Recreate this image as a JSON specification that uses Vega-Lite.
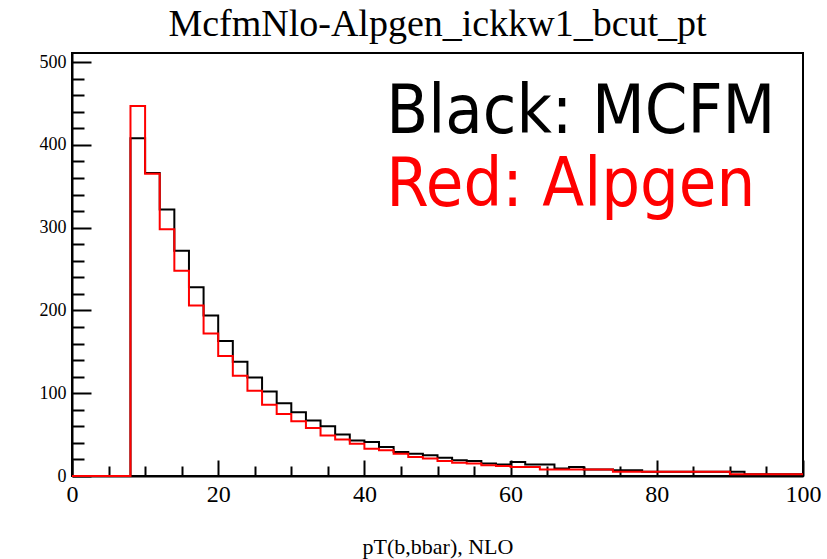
{
  "$schema": "https://vega.github.io/schema/vega-lite/v6.json",
  "width": 731,
  "height": 423,
  "autosize": {"type": "none"},
  "padding": {"left": 72, "top": 53, "right": 24, "bottom": 83},
  "background": "white",
  "title": {"text": "McfmNlo-Alpgen_ickkw1_bcut_pt", "font": "Liberation Serif", "fontSize": 38, "fontWeight": "normal", "color": "#000000", "anchor": "middle", "baseline": "alphabetic", "offset": -21},
  "config": {
    "view": {"stroke": "#000000", "strokeWidth": 2},
    "axis": {"grid": false, "domainColor": "#000000", "tickColor": "#000000", "labelColor": "#000000", "titleColor": "#000000", "domainWidth": 2, "tickWidth": 2}
  },
  "resolve": {"axis": {"x": "independent", "y": "independent"}},
  "datasets": {
    "hist": [
      {"pt": 0, "n": 0, "gen": "MCFM"}, {"pt": 2, "n": 0, "gen": "MCFM"}, {"pt": 4, "n": 0, "gen": "MCFM"}, {"pt": 6, "n": 0, "gen": "MCFM"},
      {"pt": 8, "n": 408, "gen": "MCFM"}, {"pt": 10, "n": 366, "gen": "MCFM"}, {"pt": 12, "n": 322, "gen": "MCFM"}, {"pt": 14, "n": 272, "gen": "MCFM"},
      {"pt": 16, "n": 228, "gen": "MCFM"}, {"pt": 18, "n": 194, "gen": "MCFM"}, {"pt": 20, "n": 163, "gen": "MCFM"}, {"pt": 22, "n": 138, "gen": "MCFM"},
      {"pt": 24, "n": 119, "gen": "MCFM"}, {"pt": 26, "n": 102, "gen": "MCFM"}, {"pt": 28, "n": 88, "gen": "MCFM"}, {"pt": 30, "n": 77, "gen": "MCFM"},
      {"pt": 32, "n": 67, "gen": "MCFM"}, {"pt": 34, "n": 60, "gen": "MCFM"}, {"pt": 36, "n": 50, "gen": "MCFM"}, {"pt": 38, "n": 43, "gen": "MCFM"},
      {"pt": 40, "n": 41, "gen": "MCFM"}, {"pt": 42, "n": 35, "gen": "MCFM"}, {"pt": 44, "n": 29, "gen": "MCFM"}, {"pt": 46, "n": 27, "gen": "MCFM"},
      {"pt": 48, "n": 25, "gen": "MCFM"}, {"pt": 50, "n": 22, "gen": "MCFM"}, {"pt": 52, "n": 19, "gen": "MCFM"}, {"pt": 54, "n": 18, "gen": "MCFM"},
      {"pt": 56, "n": 15, "gen": "MCFM"}, {"pt": 58, "n": 14, "gen": "MCFM"}, {"pt": 60, "n": 17, "gen": "MCFM"}, {"pt": 62, "n": 14, "gen": "MCFM"},
      {"pt": 64, "n": 14, "gen": "MCFM"}, {"pt": 66, "n": 9, "gen": "MCFM"}, {"pt": 68, "n": 11, "gen": "MCFM"}, {"pt": 70, "n": 8, "gen": "MCFM"},
      {"pt": 72, "n": 8, "gen": "MCFM"}, {"pt": 74, "n": 7, "gen": "MCFM"}, {"pt": 76, "n": 7, "gen": "MCFM"}, {"pt": 78, "n": 5, "gen": "MCFM"},
      {"pt": 80, "n": 5, "gen": "MCFM"}, {"pt": 82, "n": 5, "gen": "MCFM"}, {"pt": 84, "n": 5, "gen": "MCFM"}, {"pt": 86, "n": 5, "gen": "MCFM"},
      {"pt": 88, "n": 5, "gen": "MCFM"}, {"pt": 90, "n": 5, "gen": "MCFM"}, {"pt": 92, "n": 2, "gen": "MCFM"}, {"pt": 94, "n": 2, "gen": "MCFM"},
      {"pt": 96, "n": 2, "gen": "MCFM"}, {"pt": 98, "n": 2, "gen": "MCFM"}, {"pt": 100, "n": 2, "gen": "MCFM"},
      {"pt": 0, "n": 0, "gen": "Alpgen"}, {"pt": 2, "n": 0, "gen": "Alpgen"}, {"pt": 4, "n": 0, "gen": "Alpgen"}, {"pt": 6, "n": 0, "gen": "Alpgen"},
      {"pt": 8, "n": 447, "gen": "Alpgen"}, {"pt": 10, "n": 365, "gen": "Alpgen"}, {"pt": 12, "n": 298, "gen": "Alpgen"}, {"pt": 14, "n": 248, "gen": "Alpgen"},
      {"pt": 16, "n": 206, "gen": "Alpgen"}, {"pt": 18, "n": 172, "gen": "Alpgen"}, {"pt": 20, "n": 145, "gen": "Alpgen"}, {"pt": 22, "n": 121, "gen": "Alpgen"},
      {"pt": 24, "n": 103, "gen": "Alpgen"}, {"pt": 26, "n": 86, "gen": "Alpgen"}, {"pt": 28, "n": 75, "gen": "Alpgen"}, {"pt": 30, "n": 66, "gen": "Alpgen"},
      {"pt": 32, "n": 58, "gen": "Alpgen"}, {"pt": 34, "n": 49, "gen": "Alpgen"}, {"pt": 36, "n": 44, "gen": "Alpgen"}, {"pt": 38, "n": 39, "gen": "Alpgen"},
      {"pt": 40, "n": 33, "gen": "Alpgen"}, {"pt": 42, "n": 31, "gen": "Alpgen"}, {"pt": 44, "n": 27, "gen": "Alpgen"}, {"pt": 46, "n": 23, "gen": "Alpgen"},
      {"pt": 48, "n": 21, "gen": "Alpgen"}, {"pt": 50, "n": 18, "gen": "Alpgen"}, {"pt": 52, "n": 16, "gen": "Alpgen"}, {"pt": 54, "n": 15, "gen": "Alpgen"},
      {"pt": 56, "n": 13, "gen": "Alpgen"}, {"pt": 58, "n": 12, "gen": "Alpgen"}, {"pt": 60, "n": 11, "gen": "Alpgen"}, {"pt": 62, "n": 11, "gen": "Alpgen"},
      {"pt": 64, "n": 8, "gen": "Alpgen"}, {"pt": 66, "n": 8, "gen": "Alpgen"}, {"pt": 68, "n": 8, "gen": "Alpgen"}, {"pt": 70, "n": 8, "gen": "Alpgen"},
      {"pt": 72, "n": 8, "gen": "Alpgen"}, {"pt": 74, "n": 5, "gen": "Alpgen"}, {"pt": 76, "n": 5, "gen": "Alpgen"}, {"pt": 78, "n": 5, "gen": "Alpgen"},
      {"pt": 80, "n": 5, "gen": "Alpgen"}, {"pt": 82, "n": 5, "gen": "Alpgen"}, {"pt": 84, "n": 5, "gen": "Alpgen"}, {"pt": 86, "n": 5, "gen": "Alpgen"},
      {"pt": 88, "n": 5, "gen": "Alpgen"}, {"pt": 90, "n": 2, "gen": "Alpgen"}, {"pt": 92, "n": 2, "gen": "Alpgen"}, {"pt": 94, "n": 2, "gen": "Alpgen"},
      {"pt": 96, "n": 2, "gen": "Alpgen"}, {"pt": 98, "n": 2, "gen": "Alpgen"}, {"pt": 100, "n": 2, "gen": "Alpgen"}
    ]
  },
  "data": {"name": "hist"},
  "layer": [
    {
      "transform": [{"filter": "datum.gen === 'MCFM'"}],
      "mark": {"type": "line", "interpolate": "step-after", "color": "#000000", "strokeWidth": 2},
      "encoding": {
        "x": {
          "field": "pt", "type": "quantitative",
          "scale": {"domain": [0, 100], "nice": false, "zero": false},
          "axis": {
            "orient": "bottom",
            "values": [0, 20, 40, 60, 80, 100],
            "tickSize": -16,
            "labelFont": "Liberation Serif", "labelFontSize": 24, "labelPadding": 22,
            "labelFlush": false, "labelOverlap": false,
            "title": "pT(b,bbar), NLO", "titleFont": "Liberation Serif", "titleFontSize": 22,
            "titleFontWeight": "normal", "titleY": 77, "titleBaseline": "alphabetic"
          }
        },
        "y": {
          "field": "n", "type": "quantitative",
          "scale": {"domain": [0, 511], "nice": false},
          "axis": {
            "orient": "left",
            "values": [0, 100, 200, 300, 400, 500],
            "tickSize": -19,
            "labelFont": "Liberation Serif", "labelFontSize": 18, "labelPadding": 25,
            "labelFlush": false, "labelOverlap": false,
            "title": null
          }
        }
      }
    },
    {
      "transform": [{"filter": "datum.gen === 'Alpgen'"}],
      "mark": {"type": "line", "interpolate": "step-after", "color": "#ff0000", "strokeWidth": 2},
      "encoding": {
        "x": {
          "field": "pt", "type": "quantitative",
          "axis": {
            "orient": "bottom",
            "values": [5, 10, 15, 25, 30, 35, 45, 50, 55, 65, 70, 75, 85, 90, 95],
            "tickSize": -10, "labels": false, "domain": false, "title": null
          }
        },
        "y": {
          "field": "n", "type": "quantitative",
          "axis": {
            "orient": "left",
            "values": [20, 40, 60, 80, 120, 140, 160, 180, 220, 240, 260, 280, 320, 340, 360, 380, 420, 440, 460, 480],
            "tickSize": -12, "labels": false, "domain": false, "title": null
          }
        }
      }
    },
    {
      "data": {"values": [{"label": "Black: MCFM"}]},
      "mark": {"type": "text", "font": "DejaVu Sans Condensed", "fontSize": 68, "align": "left", "baseline": "alphabetic", "color": "#000000"},
      "encoding": {
        "x": {"datum": 43, "type": "quantitative", "axis": null},
        "y": {"datum": 414, "type": "quantitative", "axis": null},
        "text": {"field": "label"}
      }
    },
    {
      "data": {"values": [{"label": "Red: Alpgen"}]},
      "mark": {"type": "text", "font": "DejaVu Sans Condensed", "fontSize": 68, "align": "left", "baseline": "alphabetic", "color": "#ff0000"},
      "encoding": {
        "x": {"datum": 43, "type": "quantitative", "axis": null},
        "y": {"datum": 326, "type": "quantitative", "axis": null},
        "text": {"field": "label"}
      }
    }
  ]
}
